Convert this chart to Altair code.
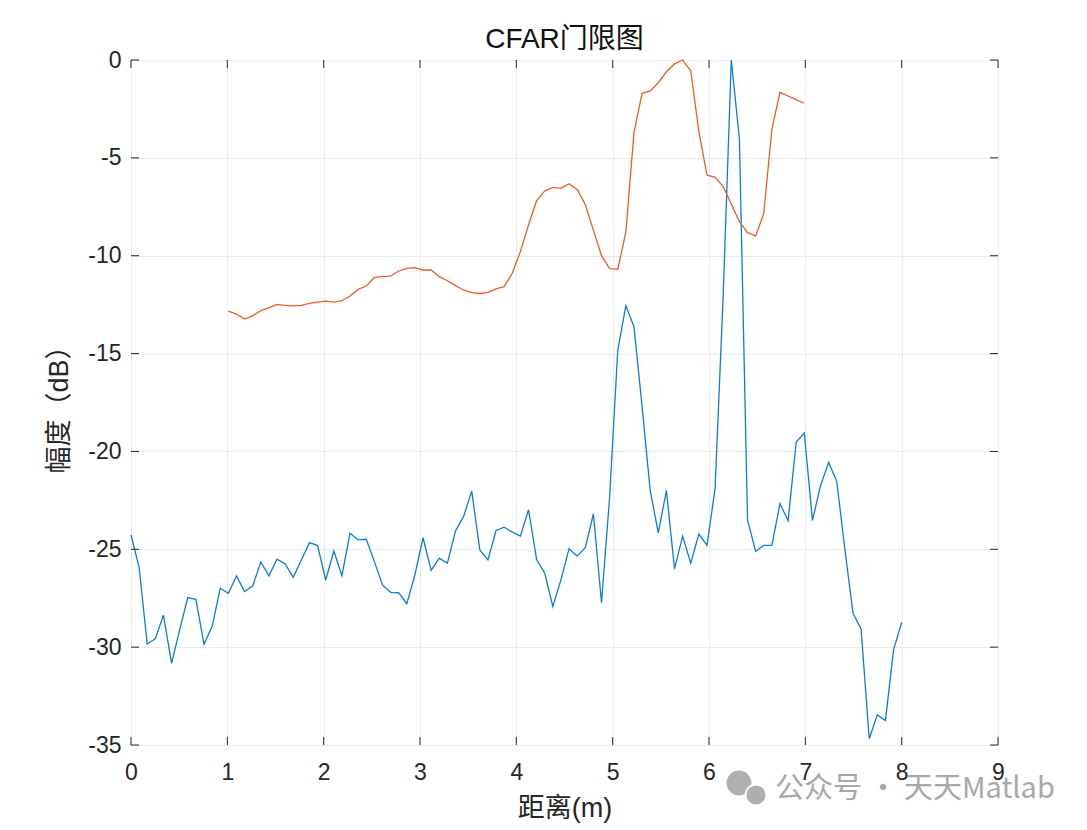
import altair as alt
import numpy as np
import pandas as pd

# ---- data ----
blue_db = [
    -24.27, -25.92, -29.84, -29.58, -28.36, -30.83, -29.12, -27.47, -27.56, -29.84,
    -28.95, -26.99, -27.25, -26.36, -27.16, -26.87, -25.65, -26.36, -25.51, -25.75,
    -26.43, -25.55, -24.66, -24.81, -26.57, -25.09, -26.35, -24.18, -24.52, -24.49,
    -25.63, -26.82, -27.20, -27.22, -27.78, -26.30, -24.41, -26.08, -25.45, -25.71,
    -24.07, -23.32, -22.03, -25.03, -25.54, -24.04, -23.87, -24.12, -24.33, -22.98,
    -25.52, -26.22, -27.92, -26.56, -24.97, -25.35, -24.92, -23.19, -27.73, -22.33,
    -14.85, -12.55, -13.63, -17.70, -21.99, -24.16, -21.99, -26.00, -24.33, -25.71,
    -24.22, -24.80, -21.90, -12.00, 0.00, -4.05, -23.50, -25.11, -24.80, -24.80,
    -22.67, -23.54, -19.52, -19.06, -23.53, -21.75, -20.56, -21.53, -25.00, -28.26,
    -29.08, -34.68, -33.46, -33.75, -30.14, -28.74,
]
orange_db = [
    -12.83, -12.98, -13.24, -13.07, -12.81, -12.66, -12.49, -12.54, -12.56, -12.54,
    -12.44, -12.37, -12.32, -12.37, -12.30, -12.06, -11.72, -11.55, -11.11, -11.07,
    -11.04, -10.78, -10.65, -10.61, -10.73, -10.73, -11.07, -11.28, -11.53, -11.75,
    -11.89, -11.93, -11.87, -11.70, -11.58, -10.90, -9.79, -8.43, -7.19, -6.69,
    -6.51, -6.56, -6.32, -6.61, -7.38, -8.69, -10.00, -10.66, -10.70, -8.80,
    -3.71, -1.70, -1.58, -1.16, -0.60, -0.20, 0.00, -0.56, -3.66, -5.88,
    -6.00, -6.47, -7.36, -8.26, -8.82, -8.99, -7.84, -3.54, -1.65, -1.84,
    -2.02, -2.21,
]
orange_start = 12          # first range bin covered by the threshold
range_max = 8.0            # last range bin (m)
x_ticks = [0, 1, 2, 3, 4, 5, 6, 7, 8, 9]
y_ticks = [-35, -30, -25, -20, -15, -10, -5, 0]
title_text = "CFAR门限图"
x_title = "距离(m)"
y_title = "幅度（dB）"
watermark = ["公众号 · 天天Matlab"]

# ---- tables ----
dist = np.linspace(0, range_max, len(blue_db))
blue_df = pd.DataFrame({"dist": dist, "db": blue_db})
orange_df = pd.DataFrame({
    "dist": dist[orange_start:orange_start + len(orange_db)],
    "db": orange_db,
})
xt_df = pd.DataFrame({"t": x_ticks})
yt_df = pd.DataFrame({"t": y_ticks})
wm_df = pd.DataFrame({"t": watermark})

W, H = 867, 685
FONT = "Liberation Sans, Arial, Noto Sans CJK SC"
AX = "#262626"
GRID = "#EBEBEB"

xs = alt.Scale(domain=[0, 9], nice=False, zero=False)
ys = alt.Scale(domain=[-35, 0], nice=False, zero=False)

x_axis = alt.Axis(values=x_ticks, format="d", title=x_title, grid=True, ticks=False, tickSize=0,
                  domain=False, labelPadding=16, labelFlush=False, labelOverlap=False,
                  labelFontSize=23, titleFontSize=27,
                  titlePadding=11, labelColor=AX, titleColor=AX, titleFontWeight="normal",
                  gridColor=GRID, gridWidth=1, labelFont=FONT, titleFont=FONT)
y_axis = alt.Axis(values=y_ticks, title=y_title, grid=True, ticks=False, tickSize=0,
                  domain=False, labelPadding=10, labelFlush=False, labelOverlap=False,
                  labelExpr="datum.value < 0 ? '-' + abs(datum.value) : '' + datum.value",
                  labelFontSize=23, titleFontSize=27, titlePadding=14,
                  labelColor=AX, titleColor=AX, titleFontWeight="normal",
                  gridColor=GRID, gridWidth=1, labelFont=FONT, titleFont=FONT)

blue = alt.Chart(blue_df).mark_line(color="#0A7FD4", strokeWidth=1.3).encode(
    x=alt.X("dist:Q", scale=xs, axis=x_axis),
    y=alt.Y("db:Q", scale=ys, axis=y_axis),
)
orange = alt.Chart(orange_df).mark_line(color="#F55A22", strokeWidth=1.3).encode(
    x=alt.X("dist:Q", scale=xs),
    y=alt.Y("db:Q", scale=ys),
)

tick_len = 8
xt_bottom = alt.Chart(xt_df).mark_rule(color=AX, strokeWidth=1).encode(
    x=alt.X("t:Q", scale=xs), y=alt.value(H), y2=alt.value(H - tick_len))
xt_top = alt.Chart(xt_df).mark_rule(color=AX, strokeWidth=1).encode(
    x=alt.X("t:Q", scale=xs), y=alt.value(0), y2=alt.value(tick_len))
yt_left = alt.Chart(yt_df).mark_rule(color=AX, strokeWidth=1).encode(
    y=alt.Y("t:Q", scale=ys), x=alt.value(0), x2=alt.value(tick_len))
yt_right = alt.Chart(yt_df).mark_rule(color=AX, strokeWidth=1).encode(
    y=alt.Y("t:Q", scale=ys), x=alt.value(W), x2=alt.value(W - tick_len))

# watermark (text + simple bubble icon)
wm_text = alt.Chart(wm_df).mark_text(
    align="left", baseline="middle", fontSize=29, font="Noto Sans CJK SC, Liberation Sans",
    color="#A0A0A0", opacity=0.9,
).encode(x=alt.value(644), y=alt.value(729), text="t:N")
icon_big = alt.Chart(wm_df).mark_point(
    shape="circle", filled=True, color="#A6A6A6", opacity=0.9, size=620,
).encode(x=alt.value(608), y=alt.value(723))
icon_small = alt.Chart(wm_df).mark_point(
    shape="circle", filled=True, color="#A6A6A6", opacity=0.9, size=440,
    stroke="white", strokeWidth=2,
).encode(x=alt.value(625), y=alt.value(735))

chart = alt.layer(
    blue, orange, xt_bottom, xt_top, yt_left, yt_right, icon_big, icon_small, wm_text
).properties(
    width=W, height=H,
    title=alt.TitleParams(title_text, fontSize=28, font=FONT, fontWeight="normal",
                          color="#111111", offset=-5),
    autosize=alt.AutoSizeParams(type="none"),
    padding={"left": 123, "top": 52, "right": 80, "bottom": 80},
).configure_view(
    stroke=AX, strokeWidth=1
).configure(background="white")

chart.save("out.html", embed_options={"renderer": "svg", "actions": False})
